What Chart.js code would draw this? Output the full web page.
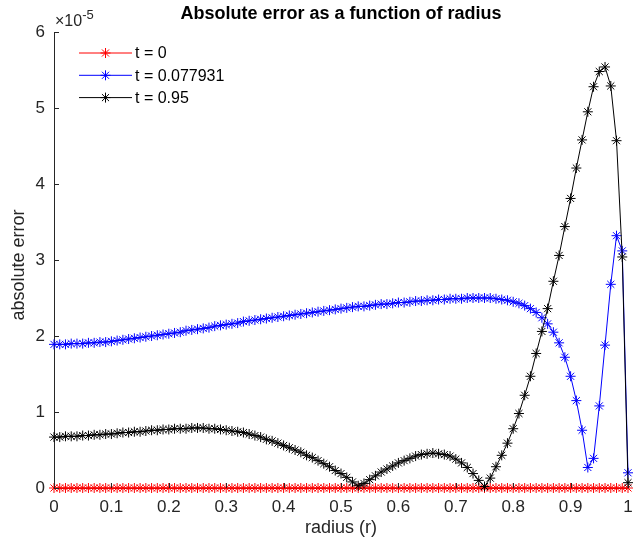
<!DOCTYPE html>
<html>
<head>
<meta charset="utf-8">
<script src="https://cdn.jsdelivr.net/npm/chart.js@4.4.1/dist/chart.umd.min.js"></script>
<style>
  html, body { margin: 0; padding: 0; background: #fff; }
</style>
</head>
<body>
<canvas id="myChart" width="636" height="546"></canvas>
<script>
// radius grid (r): 101 points, 0 .. 1
const radius = [
  0.00, 0.01, 0.02, 0.03, 0.04, 0.05, 0.06, 0.07, 0.08, 0.09,
  0.10, 0.11, 0.12, 0.13, 0.14, 0.15, 0.16, 0.17, 0.18, 0.19,
  0.20, 0.21, 0.22, 0.23, 0.24, 0.25, 0.26, 0.27, 0.28, 0.29,
  0.30, 0.31, 0.32, 0.33, 0.34, 0.35, 0.36, 0.37, 0.38, 0.39,
  0.40, 0.41, 0.42, 0.43, 0.44, 0.45, 0.46, 0.47, 0.48, 0.49,
  0.50, 0.51, 0.52, 0.53, 0.54, 0.55, 0.56, 0.57, 0.58, 0.59,
  0.60, 0.61, 0.62, 0.63, 0.64, 0.65, 0.66, 0.67, 0.68, 0.69,
  0.70, 0.71, 0.72, 0.73, 0.74, 0.75, 0.76, 0.77, 0.78, 0.79,
  0.80, 0.81, 0.82, 0.83, 0.84, 0.85, 0.86, 0.87, 0.88, 0.89,
  0.90, 0.91, 0.92, 0.93, 0.94, 0.95, 0.96, 0.97, 0.98, 0.99,
  1.00
];

// absolute error, in units of 1e-5 (the axis multiplier)
const err_t0 = [
  0, 0, 0, 0, 0, 0, 0, 0, 0, 0,
  0, 0, 0, 0, 0, 0, 0, 0, 0, 0,
  0, 0, 0, 0, 0, 0, 0, 0, 0, 0,
  0, 0, 0, 0, 0, 0, 0, 0, 0, 0,
  0, 0, 0, 0, 0, 0, 0, 0, 0, 0,
  0, 0, 0, 0, 0, 0, 0, 0, 0, 0,
  0, 0, 0, 0, 0, 0, 0, 0, 0, 0,
  0, 0, 0, 0, 0, 0, 0, 0, 0, 0,
  0, 0, 0, 0, 0, 0, 0, 0, 0, 0,
  0, 0, 0, 0, 0, 0, 0, 0, 0, 0,
  0
];

const err_t1 = [
  1.89, 1.89, 1.89, 1.90, 1.90, 1.90, 1.91, 1.91, 1.92, 1.92,
  1.93, 1.94, 1.95, 1.96, 1.97, 1.98, 1.99, 2.00, 2.01, 2.02,
  2.03, 2.04, 2.05, 2.07, 2.08, 2.09, 2.10, 2.11, 2.13, 2.14,
  2.15, 2.16, 2.17, 2.19, 2.20, 2.21, 2.22, 2.23, 2.24, 2.25,
  2.26, 2.27, 2.28, 2.29, 2.30, 2.31, 2.32, 2.33, 2.34, 2.35,
  2.36, 2.37, 2.38, 2.39, 2.39, 2.40, 2.41, 2.42, 2.42, 2.43,
  2.44, 2.44, 2.45, 2.46, 2.46, 2.47, 2.47, 2.48, 2.48, 2.49,
  2.49, 2.49, 2.50, 2.50, 2.50, 2.50, 2.50, 2.49, 2.48, 2.47,
  2.45, 2.43, 2.40, 2.36, 2.31, 2.24, 2.16, 2.05, 1.91, 1.72,
  1.47, 1.15, 0.76, 0.27, 0.39, 1.08, 1.88, 2.68, 3.32, 3.12,
  0.20
];

const err_t2 = [
  0.67, 0.67, 0.68, 0.68, 0.68, 0.69, 0.69, 0.70, 0.70, 0.71,
  0.71, 0.72, 0.73, 0.73, 0.74, 0.74, 0.75, 0.76, 0.76, 0.77,
  0.77, 0.78, 0.78, 0.78, 0.79, 0.79, 0.79, 0.78, 0.78, 0.77,
  0.76, 0.75, 0.74, 0.73, 0.71, 0.69, 0.67, 0.64, 0.62, 0.59,
  0.56, 0.53, 0.50, 0.47, 0.43, 0.40, 0.36, 0.32, 0.28, 0.23,
  0.19, 0.14, 0.08, 0.03, 0.06, 0.11, 0.16, 0.21, 0.25, 0.29,
  0.33, 0.36, 0.39, 0.42, 0.44, 0.45, 0.46, 0.45, 0.44, 0.42,
  0.38, 0.33, 0.27, 0.19, 0.10, 0.02, 0.13, 0.28, 0.43, 0.59,
  0.78, 0.98, 1.22, 1.47, 1.77, 2.06, 2.36, 2.72, 3.06, 3.44,
  3.81, 4.21, 4.58, 4.95, 5.28, 5.48, 5.54, 5.29, 4.57, 3.04,
  0.07
];

const seriesNames = ['t = 0', 't = 0.077931', 't = 0.95'];
const seriesColors = ['#ff0000', '#0000ff', '#000000'];
const xTickValues = [0, 0.1, 0.2, 0.3, 0.4, 0.5, 0.6, 0.7, 0.8, 0.9, 1];
const yTickValues = [0, 1, 2, 3, 4, 5, 6];
const titleText = 'Absolute error as a function of radius';
const yLabel = 'absolute error';

const axisColor = '#262626';
const fontFam = '"Liberation Sans", Arial, Helvetica, sans-serif';

function pts(ys) {
  return radius.map((r, i) => ({ x: r, y: ys[i] }));
}

function ds(i, ys) {
  return {
    label: seriesNames[i],
    data: pts(ys),
    borderColor: seriesColors[i],
    backgroundColor: seriesColors[i],
    borderWidth: 1,
    pointStyle: 'star',
    pointRadius: 5,
    pointBorderWidth: 1,
    pointBorderColor: seriesColors[i],
    tension: 0,
    clip: false,
    order: 2 - i  // later curves on top, like hold on
  };
}

// matlab look: inward ticks, title, y label, x10^-5, legend inside the axes
const matlabDecor = {
  id: 'matlabDecor',
  afterDraw(chart) {
    const { ctx, chartArea: a, scales: { x, y } } = chart;
    ctx.save();
    ctx.strokeStyle = axisColor;
    ctx.lineWidth = 1;
    ctx.beginPath();
    xTickValues.forEach(v => {
      const px = Math.round(x.getPixelForValue(v)) + 0.5;
      ctx.moveTo(px, a.bottom);
      ctx.lineTo(px, a.bottom - 5);
    });
    yTickValues.forEach(v => {
      const py = Math.round(y.getPixelForValue(v)) + 0.5;
      ctx.moveTo(a.left, py);
      ctx.lineTo(a.left + 5, py);
    });
    ctx.stroke();

    // title
    ctx.fillStyle = '#000';
    ctx.font = 'bold 18px ' + fontFam;
    ctx.textAlign = 'center';
    ctx.textBaseline = 'middle';
    ctx.fillText(titleText, (a.left + a.right) / 2, 14);

    // y label
    ctx.save();
    ctx.fillStyle = axisColor;
    ctx.font = '18px ' + fontFam;
    ctx.translate(19, 265);
    ctx.rotate(-Math.PI / 2);
    ctx.fillText(yLabel, 0, 0);
    ctx.restore();

    // exponent
    ctx.fillStyle = axisColor;
    ctx.textAlign = 'left';
    ctx.textBaseline = 'alphabetic';
    ctx.font = '16px ' + fontFam;
    ctx.fillText('\u00d710', a.left + 1, 26);
    const w = ctx.measureText('\u00d710').width;
    ctx.font = '13px ' + fontFam;
    ctx.fillText('-5', a.left + 1 + w, 19);

    // legend
    ctx.font = '16px ' + fontFam;
    ctx.textBaseline = 'middle';
    seriesNames.forEach((name, i) => {
      const ly = a.top + 21 + i * 22.3;
      ctx.strokeStyle = seriesColors[i];
      ctx.lineWidth = 1;
      ctx.beginPath();
      ctx.moveTo(a.left + 25, ly);
      ctx.lineTo(a.left + 78, ly);
      ctx.stroke();
      Chart.helpers.drawPoint(ctx, { pointStyle: 'star', radius: 5, borderWidth: 1, rotation: 0 }, a.left + 51.5, ly);
      ctx.fillStyle = '#000';
      ctx.fillText(name, a.left + 81, ly + 1);
    });
    ctx.restore();
  }
};

const ctx = document.getElementById('myChart').getContext('2d');
new Chart(ctx, {
  type: 'line',
  data: {
    datasets: [ds(0, err_t0), ds(1, err_t1), ds(2, err_t2)]
  },
  options: {
    responsive: false,
    animation: false,
    layout: { padding: { left: 0, top: 32, right: 8, bottom: 0 } },
    plugins: {
      legend: { display: false },
      tooltip: { enabled: false },
      title: { display: false }
    },
    scales: {
      x: {
        type: 'linear',
        min: 0,
        max: 1,
        afterFit: s => { s.height = 58; s.paddingLeft = 0; s.paddingRight = 0; },
        grid: { display: false, drawTicks: false },
        border: { display: true, color: axisColor, width: 1 },
        ticks: {
          stepSize: 0.1,
          padding: 9,
          color: axisColor,
          maxRotation: 0,
          font: { family: fontFam, size: 17 },
          callback: v => String(Number(v.toFixed(2)))
        },
        title: {
          display: true,
          text: 'radius (r)',
          color: axisColor,
          font: { family: fontFam, size: 18 },
          padding: { top: 0, bottom: 7 }
        }
      },
      y: {
        type: 'linear',
        min: 0,
        max: 6,
        afterFit: s => { s.width = 54; s.paddingTop = 0; s.paddingBottom = 0; },
        grid: { display: false, drawTicks: false },
        border: { display: true, color: axisColor, width: 1 },
        ticks: {
          stepSize: 1,
          padding: 9,
          color: axisColor,
          font: { family: fontFam, size: 17 }
        }
      }
    }
  },
  plugins: [matlabDecor]
});
</script>
</body>
</html>
